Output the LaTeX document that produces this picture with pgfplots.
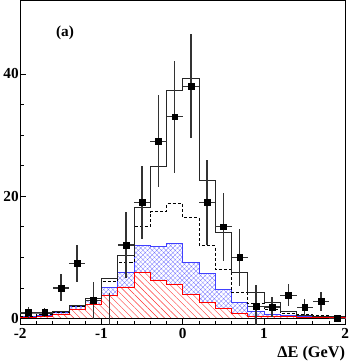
\documentclass[border=0pt]{standalone}
\usepackage{fontspec}
\setmainfont{Liberation Serif}
\usepackage{pgfplots}
\pgfplotsset{compat=1.18}
\usetikzlibrary{patterns.meta}
\begin{document}
\begin{tikzpicture}
\begin{axis}[
  scale only axis, width=319pt, height=318pt,
  xmin=-2, xmax=2, ymin=-1, ymax=52,
  xtick={-2,-1,0,1,2}, xticklabels={-2,-1,0,1,2},
  ytick={0,20,40}, yticklabels={0,20,40},
  minor x tick num=4, minor y tick num=3,
  xtick pos=lower, ytick pos=left, tick align=inside,
  major tick length=6pt, minor tick length=3.5pt,
  tick style={black, line width=0.6pt},
  axis line style={line width=1.2pt},
  ticklabel style={font=\fontsize{15}{15}\selectfont\bfseries},
  yticklabel style={xshift=2pt},
  xlabel={ΔE (GeV)},
  xlabel style={at={(rel axis cs:1,0)}, anchor=north east, yshift=-21pt, inner sep=0pt, font=\fontsize{16}{16}\selectfont\bfseries},
  clip mode=individual,
]
% blue component (cumulative top)
\addplot[const plot, draw=blue!75, line width=0.9pt,
  postaction={pattern={Hatch[angle=45,distance=3.2pt,line width=0.3pt]}, pattern color=blue!55}]
coordinates {(-2,0.3) (-1.8,0.5) (-1.6,1.0) (-1.4,1.9) (-1.2,3.0) (-1.0,5.1) (-0.8,7.5) (-0.6,12) (-0.4,11.8) (-0.2,12.3) (0,9.2) (0.2,7.3) (0.4,4.7) (0.6,2.6) (0.8,1.1) (1.0,0.6) (1.2,0.5) (1.4,0.4) (1.6,0.3) (1.8,0.2) (2,0.2)} \closedcycle;
% red component
\addplot[const plot, draw=red, line width=0.9pt, fill=white,
  postaction={pattern={Lines[angle=-45,distance=4.5pt,line width=0.4pt]}, pattern color=red!80}]
coordinates {(-2,0.1) (-1.8,0.3) (-1.6,0.6) (-1.4,1.5) (-1.2,2.3) (-1.0,3.7) (-0.8,5.0) (-0.6,7.5) (-0.4,6.2) (-0.2,5.6) (0,4.0) (0.2,2.6) (0.4,1.7) (0.6,0.8) (0.8,0.4) (1.0,0.3) (1.2,0.3) (1.4,0.2) (1.6,0.2) (1.8,0.1) (2,0.1)} \closedcycle;
% dashed
\addplot[const plot, black, densely dashed, line width=0.9pt]
coordinates {(-2,0.4) (-1.8,0.6) (-1.6,1.0) (-1.4,2.0) (-1.2,3.2) (-1.0,6.1) (-0.8,9.2) (-0.6,15) (-0.4,17.5) (-0.2,18.8) (0,16.5) (0.2,11.9) (0.4,8.0) (0.6,4.2) (0.8,2.5) (1.0,1.4) (1.2,0.8) (1.4,0.6) (1.6,0.5) (1.8,0.3) (2,0.3)};
% solid total
\addplot[const plot, black!85, line width=0.9pt]
coordinates {(-2,0.9) (-1.8,0.9) (-1.6,1.2) (-1.4,2.2) (-1.2,3.3) (-1.0,6.6) (-0.8,10.3) (-0.6,18.2) (-0.4,24.8) (-0.2,37.3) (0,39.3) (0.2,22.5) (0.4,14) (0.6,7.5) (0.8,4.2) (1.0,2.7) (1.2,1.2) (1.4,0.5) (1.6,0.4) (1.8,0.3) (2,0.3)};
% zero line
\addplot[black, line width=0.6pt] coordinates {(-2,0) (2,0)};
% data
\addplot[only marks, mark=square*, mark size=2.8pt, black,
  error bars/.cd, x dir=both, x explicit, y dir=both, y explicit,
  error mark=none, error bar style={line width=1.3pt, black!80}]
table[x=x, y=y, x error=ex, y error=ey] {
x y ex ey
-1.9 1 0.1 0.9
-1.7 1 0.1 0.8
-1.5 5 0.1 2.2
-1.3 9 0.1 3
-1.1 3 0.1 3
-0.9 -1.3 0.1 5.5
-0.7 12 0.1 5.4
-0.5 19 0.1 6
-0.3 29 0.1 7.5
-0.1 33 0.1 9.2
0.1 38 0.1 8.5
0.3 19 0.1 7
0.5 15 0.1 5.6
0.7 10 0.1 4.7
0.9 2 0.1 3.5
1.1 1.9 0.1 1.6
1.3 3.8 0.1 1.8
1.5 1.8 0.1 1.4
1.7 2.8 0.1 1.6
1.9 0 0.1 0.3
};
\node[font=\fontsize{15}{15}\selectfont\bfseries] at (axis cs:-1.45,46.8) {(a)};
\end{axis}
\end{tikzpicture}
\end{document}
